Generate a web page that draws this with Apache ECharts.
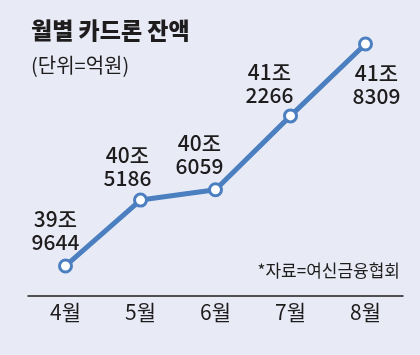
<!DOCTYPE html>
<html><head><meta charset="utf-8">
<script src="https://cdn.jsdelivr.net/npm/echarts@6/dist/echarts.min.js"></script>
<style>html,body{margin:0;padding:0;background:#e8ebf6}#c{width:420px;height:355px}</style>
</head><body><div id="c"></div><script>
const months = ['4월', '5월', '6월', '7월', '8월'];
const balances = [399644, 405186, 406059, 412266, 418309];
const labelTexts = ['39조\n9644', '40조\n5186', '40조\n6059', '41조\n2266', '41조\n8309'];
const titleText = '월별 카드론 잔액';
const unitText = '(단위=억원)';
const sourceText = '*자료=여신금융협회';

const LINE = '#4b7fc0';
const INK = '#1f1c1d';
const KFONT = '"Noto Sans CJK KR", sans-serif';

const labelPlace = [
  {position: 'top', offset: [-10, 0]},
  {position: 'top', offset: [-13, 2]},
  {position: 'top', offset: [-16, 0]},
  {position: 'top', offset: [-21, 3]},
  {position: 'bottom', offset: [11, 5]}
];

const chart = echarts.init(document.getElementById('c'), null, {renderer: 'canvas'});
chart.setOption({
  backgroundColor: '#e8ebf6',
  animation: false,
  title: [
    {text: titleText, left: 26, top: 14, textStyle: {fontFamily: KFONT, fontSize: 23, fontWeight: 900, color: INK}},
    {text: unitText, left: 26, top: 50, textStyle: {fontFamily: KFONT, fontSize: 20, fontWeight: 'normal', color: INK}},
    {text: sourceText, right: 15, top: 257, textStyle: {fontFamily: KFONT, fontSize: 17, fontWeight: 'normal', color: INK}}
  ],
  grid: {left: 28, right: 17, top: 22, bottom: 59, containLabel: false},
  xAxis: {
    type: 'category',
    data: months,
    boundaryGap: true,
    axisLine: {lineStyle: {color: INK, width: 1.5}},
    axisTick: {inside: true, length: 7, alignWithLabel: true, lineStyle: {color: INK, width: 1.2}},
    axisLabel: {margin: 6, fontFamily: KFONT, fontSize: 21, color: INK}
  },
  yAxis: {
    type: 'value', min: 397120, max: 420160, show: false, splitLine: {show: false}
  },
  series: [{
    type: 'line',
    data: balances.map((v, i) => ({
      value: v,
      label: {
        show: true,
        formatter: labelTexts[i],
        position: labelPlace[i].position,
        offset: labelPlace[i].offset,
        distance: 5
      }
    })),
    symbol: 'circle',
    symbolSize: 12,
    lineStyle: {color: LINE, width: 5},
    itemStyle: {color: '#ffffff', borderColor: LINE, borderWidth: 3},
    label: {
      fontFamily: KFONT, fontSize: 21, fontWeight: 500, lineHeight: 23, color: INK, align: 'center'
    },
    z: 3
  }]
});
</script></body></html>
